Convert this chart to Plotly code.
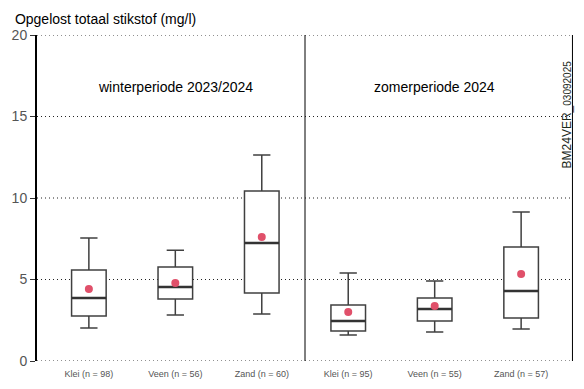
import plotly.graph_objects as go

categories = ["Klei (n = 98)", "Veen (n = 56)", "Zand (n = 60)",
              "Klei (n = 95)", "Veen (n = 55)", "Zand (n = 57)"]
lower = [2.02, 2.82, 2.88, 1.60, 1.78, 1.96]
q1 = [2.76, 3.80, 4.17, 1.84, 2.45, 2.64]
median = [3.87, 4.54, 7.24, 2.45, 3.19, 4.29]
q3 = [5.58, 5.77, 10.43, 3.44, 3.87, 6.99]
upper = [7.55, 6.80, 12.64, 5.40, 4.91, 9.14]
mean = [4.42, 4.79, 7.61, 3.00, 3.37, 5.34]
period_labels = ["winterperiode 2023/2024", "zomerperiode 2024"]
y_ticks = [0, 5, 10, 15, 20]

pos = list(range(len(categories)))
box_w = 0.4

fig = go.Figure()

# dotted horizontal grid lines at tick values
for t in y_ticks:
    fig.add_shape(type="line", xref="paper", yref="y", x0=0, x1=1, y0=t, y1=t,
                  line=dict(color="#222222", width=1, dash="1px,3px"), layer="below")

fig.add_trace(go.Box(
    x=pos, q1=q1, median=median, q3=q3, lowerfence=lower, upperfence=upper,
    fillcolor="white", line=dict(color="#404040", width=1.5),
    whiskerwidth=0.5, width=box_w, boxpoints=False, showlegend=False,
    hoverinfo="skip",
))
# thicker median lines
for i, m in zip(pos, median):
    fig.add_trace(go.Scatter(x=[i - box_w / 2, i + box_w / 2], y=[m, m], mode="lines",
                             line=dict(color="#333333", width=2.5),
                             showlegend=False, hoverinfo="skip"))
fig.add_trace(go.Scatter(
    x=pos, y=mean, mode="markers",
    marker=dict(color="#E0506A", size=8), showlegend=False,
))

# divider between periods
fig.add_shape(type="line", xref="x", yref="paper", x0=2.5, x1=2.5, y0=0, y1=1,
              line=dict(color="black", width=1))
# right border
fig.add_shape(type="line", xref="paper", yref="paper", x0=0.999, x1=0.999, y0=0, y1=1,
              line=dict(color="black", width=1))

fig.add_annotation(x=1, y=16.8, xref="x", yref="y", text=period_labels[0],
                   showarrow=False, font=dict(size=14, color="black"))
fig.add_annotation(x=4, y=16.8, xref="x", yref="y", text=period_labels[1],
                   showarrow=False, font=dict(size=14, color="black"))
fig.add_annotation(x=0.988, y=0.755, xref="paper", yref="paper",
                   text="BM24VER_<span style='font-size:10px'>03092025</span>",
                   textangle=-90, showarrow=False, xanchor="center", yanchor="middle",
                   font=dict(size=12, color="#1c2a1c"))

fig.update_layout(
    width=576, height=381,
    margin=dict(l=29, r=11, t=27, b=28),
    plot_bgcolor="white", paper_bgcolor="white",
    font=dict(family="Liberation Sans, Arial, sans-serif"),
    title=dict(text="Opgelost totaal stikstof (mg/l)", x=0.012, xanchor="left",
               y=0.985, yanchor="top", font=dict(size=14, color="black")),
    xaxis=dict(range=[-0.6, 5.6], tickmode="array", tickvals=pos, ticktext=categories,
               showgrid=False, zeroline=False, showline=False, ticks="",
               ticklabelstandoff=6,
               automargin=False, tickfont=dict(size=9, color="#555555")),
    yaxis=dict(range=[0, 20], tickmode="array", tickvals=y_ticks,
               showgrid=False, zeroline=False, showline=True, linecolor="black",
               linewidth=2, ticks="outside", ticklen=5, tickcolor="#333333",
               automargin=False, tickfont=dict(size=14, color="#555555")),
)

fig.write_html("out.html")
